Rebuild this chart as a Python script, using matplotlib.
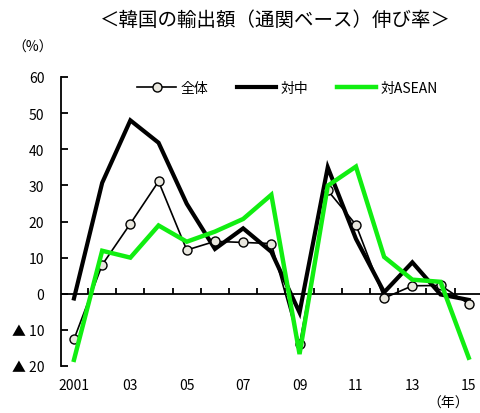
import matplotlib
matplotlib.use("Agg")
import matplotlib.pyplot as plt

plt.rcParams['font.family'] = ['Noto Sans CJK JP', 'DejaVu Sans']

years = list(range(2001, 2016))
total = [-12.6, 8.0, 19.4, 31.1, 12.1, 14.5, 14.2, 13.9, -14.0, 28.6, 19.1, -1.2, 2.2, 2.3, -2.8]
china = [-1.3, 30.7, 48.0, 41.8, 24.9, 12.4, 18.1, 11.6, -5.2, 35.0, 15.2, 0.4, 8.7, -0.2, -1.7]
asean = [-18.3, 11.9, 10.0, 18.9, 14.4, 17.2, 20.7, 27.4, -16.7, 29.9, 35.2, 10.2, 3.9, 3.3, -17.7]

xtick_years = [2001, 2003, 2005, 2007, 2009, 2011, 2013, 2015]
xtick_labels = ['2001', '03', '05', '07', '09', '11', '13', '15']
yticks = [-20, -10, 0, 10, 20, 30, 40, 50, 60]
ytick_labels = ['▲ 20', '▲ 10', '0', '10', '20', '30', '40', '50', '60']

title = '＜韓国の輸出額（通関ベース）伸び率＞'
series_names = ['全体', '対中', '対ASEAN']

fig = plt.figure(figsize=(4.8, 4.14), dpi=100)
ax = fig.add_axes([61 / 480, 47 / 414, (480 - 61) / 480, 289 / 414])

ax.plot(years, china, color='black', lw=3.0, zorder=3, label=series_names[1],
        solid_joinstyle='miter')
ax.plot(years, total, color='black', lw=1.2, marker='o', ms=6.5,
        markerfacecolor='#e9e7de', markeredgecolor='black', markeredgewidth=1.0,
        zorder=4, label=series_names[0])
ax.plot(years, asean, color='#11ee11', lw=3.2, zorder=5, label=series_names[2],
        solid_joinstyle='miter')

ax.set_xlim(2000.54, 2015.4)
ax.set_ylim(-20, 60)

ax.axhline(0, color='black', lw=1.3, zorder=2)

for s in ['top', 'right', 'bottom']:
    ax.spines[s].set_visible(False)
ax.spines['left'].set_linewidth(1.3)

ax.set_yticks(yticks)
ax.set_yticklabels(ytick_labels, fontsize=10)
ax.tick_params(axis='y', direction='in', length=5, width=1.3, pad=12)

ax.set_xticks(xtick_years)
ax.set_xticklabels(xtick_labels, fontsize=10)
ax.tick_params(axis='x', length=0, pad=9)

sec = ax.secondary_xaxis(0.25)
sec.set_xticks([y + 0.5 for y in years[:-1]])
sec.set_xticklabels([])
sec.tick_params(direction='in', length=4, width=1.3)
sec.spines['bottom'].set_visible(False)

h, l = ax.get_legend_handles_labels()
order = [1, 0, 2]
ax.legend([h[i] for i in order], [l[i] for i in order], loc='upper center',
          bbox_to_anchor=(0.54, 1.03), ncol=3, frameon=False, fontsize=10,
          handlelength=2.8, handletextpad=0.3, columnspacing=2.1)

fig.text(275 / 480, 1 - 20 / 414, title, ha='center', va='center', fontsize=14)
fig.text(33 / 480, 1 - 48 / 414, '（%）', ha='center', va='center', fontsize=10)
fig.text(448 / 480, 1 - 404 / 414, '（年）', ha='center', va='center', fontsize=10)

fig.savefig('out.png', dpi=100)
